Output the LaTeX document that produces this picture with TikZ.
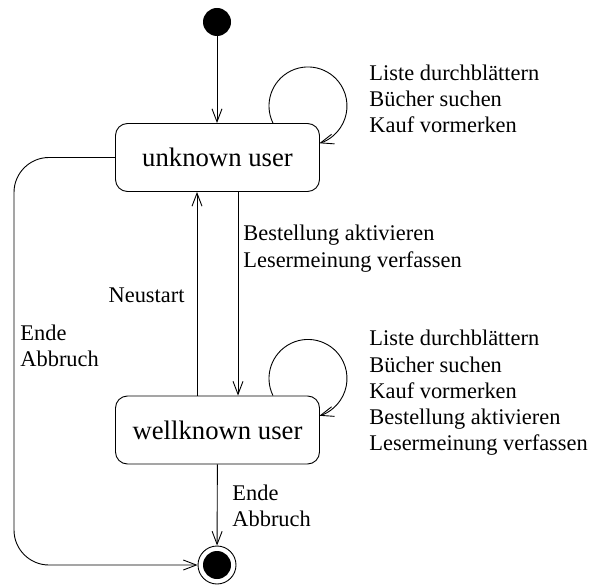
\documentclass[tikz,border=0pt]{standalone}
\usepackage{fontspec}
\setmainfont{Liberation Serif}
\usetikzlibrary{arrows.meta,positioning,calc}

\tikzset{
  state/.style={draw, rounded corners=12pt, minimum width=204pt, minimum height=68pt,
    inner sep=0pt, font=\fontsize{26.7}{30}\selectfont},
  startdot/.style={circle, fill=black, minimum size=28pt, inner sep=0pt},
  enddot/.style={circle, draw, minimum size=38pt, inner sep=0pt,
    path picture={\fill (path picture bounding box.center) circle (14pt);}},
  trans/.style={inner sep=0pt, anchor=west, align=left,
    font=\fontsize{22.4}{26.3}\selectfont},
  flow/.style={-{Straight Barb[length=13pt,width=10pt]}, line width=0.9pt},
}

\begin{document}
\begin{tikzpicture}[x=1pt, y=1pt, line width=0.9pt]
  \useasboundingbox (0,0) rectangle (589,-585);

  % states
  \node[startdot] (init) at (217,-22) {};
  \node[state] (unknown) at (217.5,-157.5) {unknown user};
  \node[state] (wellknown) at (217.5,-430) {wellknown user};
  \node[enddot] (final) at (217,-565) {};
  \coordinate (rail) at (14,0);

  % transitions
  \draw[flow] (init) -- (init |- unknown.north);
  \draw[flow] ([xshift=20.5pt]unknown.south) -- ([xshift=20.5pt]wellknown.north);
  \draw[flow] ([xshift=-20.5pt]wellknown.north) -- ([xshift=-20.5pt]unknown.south);
  \draw[flow] (wellknown) -- (final);
  \draw[flow, rounded corners=35pt] (unknown.west) -- (unknown.west -| rail)
    -- (final.west -| rail) -- (final.west);

  % self loops
  \draw[flow] ([xshift=-47pt]unknown.north east) arc[start angle=206, end angle=-73, radius=39pt];
  \draw[flow] ([xshift=-47pt]wellknown.north east) arc[start angle=206, end angle=-73, radius=39pt];

  % labels
  \node[trans] (loopone) at (369,-99) {Liste durchblättern\\Bücher suchen\\Kauf vormerken};
  \node[trans] (looptwo) at (369,-393) {Liste durchblättern\\Bücher suchen\\Kauf vormerken\\Bestellung aktivieren\\Lesermeinung verfassen};
  \node[trans] (order) at (243,-248.5) {Bestellung aktivieren\\Lesermeinung verfassen};
  \node[trans, anchor=east] (restart) at (185,-295) {Neustart};
  \node[trans] (quitleft) at (20,-345.5) {Ende\\Abbruch};
  \node[trans] (quitdown) at (232,-505.5) {Ende\\Abbruch};
\end{tikzpicture}
\end{document}
